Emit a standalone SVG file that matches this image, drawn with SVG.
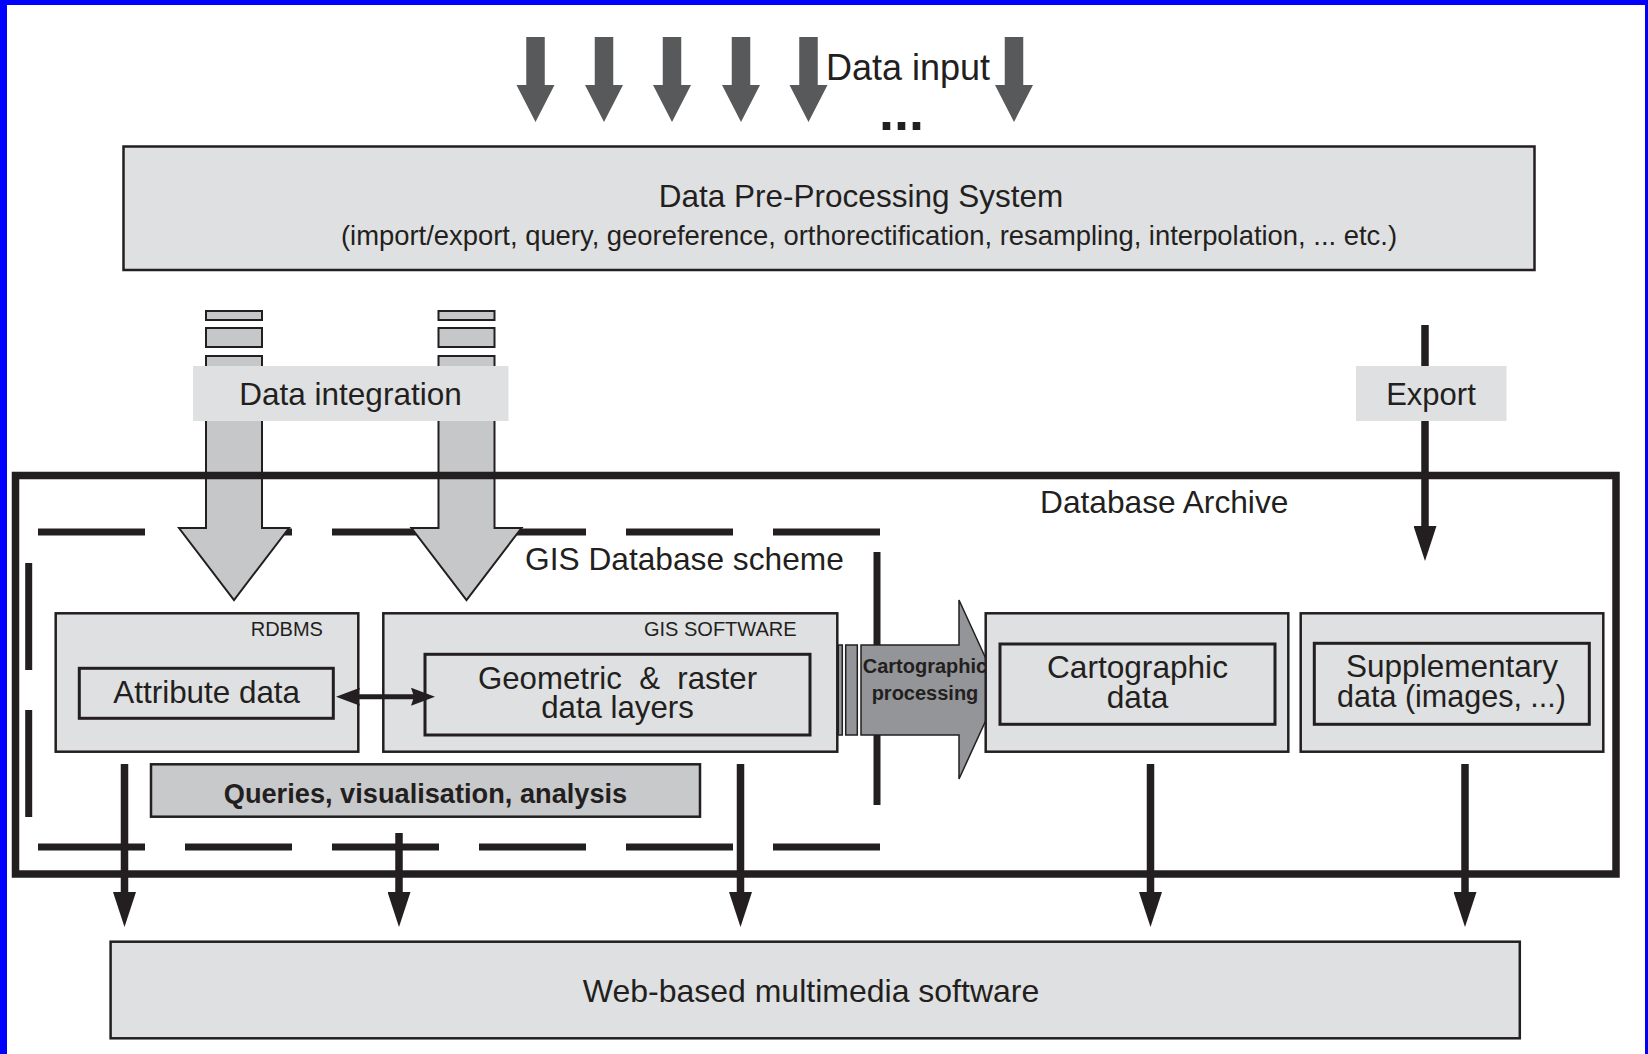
<svg xmlns="http://www.w3.org/2000/svg" xmlns:xlink="http://www.w3.org/1999/xlink" width="1648" height="1054" viewBox="0 0 1648 1054">
<style>
  text { font-family: "Liberation Sans", Arial, sans-serif; fill: #231f20; }
  .box { fill: #dfe0e1; stroke: #231f20; stroke-width: 2.5; }
  .inner { fill: #dfe0e1; stroke: #231f20; stroke-width: 3; }
  .label { fill: #dfe0e1; stroke: none; }
  .thick { fill: none; stroke: #231f20; stroke-width: 7.5; }
  .dash { fill: none; stroke: #231f20; stroke-width: 7; stroke-dasharray: 107 40; }
  .conn { fill: none; stroke: #231f20; stroke-width: 7.5; marker-end: url(#ah); }
  .input { fill: #58595b; }
  .integ { fill: #c6c7c9; stroke: #231f20; stroke-width: 2; }
  .carto { fill: #939598; stroke: #231f20; stroke-width: 1.5; }
  .bold { font-weight: bold; }
  .mid { text-anchor: middle; }
</style>
<defs>
  <marker id="ah" markerUnits="userSpaceOnUse" markerWidth="35" markerHeight="23" viewBox="0 0 35 23" refX="1" refY="11.5" orient="auto">
    <path d="M0,0 L35,11.5 L0,23 Z" fill="#231f20"/>
  </marker>
  <marker id="dh" markerUnits="userSpaceOnUse" markerWidth="24" markerHeight="18" viewBox="0 0 24 18" refX="3" refY="9" orient="auto-start-reverse">
    <path d="M0,0 L24,9 L0,18 L3,9 Z" fill="#231f20"/>
  </marker>
  <path id="inArrow" d="M-9.25,37 H9.25 V85 H19 L0,122 L-19,85 H-9.25 Z"/>
  <g id="intArrow">
    <rect x="-28" y="311" width="56" height="9"/>
    <rect x="-28" y="328" width="56" height="19"/>
    <path d="M-28,356 H28 V528 H55 L0,600 L-55,528 H-28 Z"/>
  </g>
</defs>

<rect x="0" y="0" width="1648" height="1054" fill="#ffffff"/>
<g id="frame">
  <rect x="0" y="0" width="1648" height="5" fill="#0000ff"/>
  <rect x="0" y="0" width="7" height="1054" fill="#0000ff"/>
  <rect x="1645" y="0" width="3" height="1054" fill="#0000ff"/>
</g>

<g id="data-input">
  <text x="826" y="80" font-size="36">Data input</text>
  <text x="879" y="130" font-size="54" class="bold">...</text>
</g>

<g id="pre-processing">
  <rect class="box" x="123.5" y="146.5" width="1411" height="123.5"/>
  <text class="mid" x="861" y="207" font-size="31.5">Data Pre-Processing System</text>
  <text class="mid" x="869" y="245" font-size="27.4">(import/export, query, georeference, orthorectification, resampling, interpolation, ... etc.)</text>
</g>

<g id="gis-database-scheme">
  <path class="dash" d="M38,532 H880"/>
  <path class="dash" d="M38,847 H880"/>
  <path class="dash" d="M28.7,563 V817"/>
  <path d="M877,552 V805" fill="none" stroke="#231f20" stroke-width="7"/>
  <text x="525" y="570" font-size="31.7">GIS Database scheme</text>
</g>

<g id="rdbms">
  <rect class="box" x="55.7" y="613.3" width="302.6" height="138.4"/>
  <text x="250.7" y="636" font-size="20">RDBMS</text>
  <rect class="inner" x="79.3" y="668.3" width="254" height="50"/>
  <text class="mid" x="206.7" y="703" font-size="31.4">Attribute data</text>
</g>

<g id="gis-software">
  <rect class="box" x="383.3" y="613.3" width="454" height="138.4"/>
  <text x="644" y="636" font-size="20">GIS SOFTWARE</text>
  <rect class="inner" x="425" y="654.3" width="385" height="80.7"/>
  <text class="mid" x="617.5" y="689" font-size="31.2" style="white-space:pre" xml:space="preserve">Geometric  &amp;  raster</text>
  <text class="mid" x="617.5" y="718" font-size="31.2">data layers</text>
</g>

<g id="queries">
  <rect x="151" y="764.3" width="549" height="52.4" fill="#c8c9cb" stroke="#231f20" stroke-width="2.5"/>
  <text class="mid bold" x="425.5" y="803" font-size="27.2">Queries, visualisation, analysis</text>
</g>

<g id="cartographic-processing">
  <rect class="carto" x="838.3" y="645" width="4" height="90"/>
  <rect class="carto" x="845.7" y="645" width="11.6" height="90"/>
  <path class="carto" d="M861,645 H959 V600 L1000,689.5 L959,779 V735 H861 Z"/>
  <text class="mid bold" x="925" y="673" font-size="20">Cartographic</text>
  <text class="mid bold" x="925" y="700" font-size="20">processing</text>
</g>

<g id="cartographic-data">
  <rect class="box" x="985.7" y="613.3" width="302.6" height="138.4"/>
  <rect class="inner" x="1000" y="644" width="275" height="80.3"/>
  <text class="mid" x="1137.5" y="678" font-size="31.6">Cartographic</text>
  <text class="mid" x="1137.5" y="708" font-size="31.6">data</text>
</g>

<g id="supplementary-data">
  <rect class="box" x="1300.7" y="613.3" width="302.6" height="138.4"/>
  <rect class="inner" x="1314.3" y="643.3" width="275" height="81"/>
  <text class="mid" x="1452" y="677" font-size="31.5">Supplementary</text>
  <text class="mid" x="1451.5" y="707" font-size="30.5">data (images, ...)</text>
</g>

<g id="web-multimedia">
  <rect class="box" x="110.6" y="941.7" width="1409.2" height="96.6"/>
  <text class="mid" x="811" y="1002" font-size="32">Web-based multimedia software</text>
</g>

<g id="connectors">
  <use href="#inArrow" xlink:href="#inArrow" class="input" x="535.5"/>
  <use href="#inArrow" xlink:href="#inArrow" class="input" x="604"/>
  <use href="#inArrow" xlink:href="#inArrow" class="input" x="672"/>
  <use href="#inArrow" xlink:href="#inArrow" class="input" x="741"/>
  <use href="#inArrow" xlink:href="#inArrow" class="input" x="808.5"/>
  <use href="#inArrow" xlink:href="#inArrow" class="input" x="1014"/>
  <use href="#intArrow" xlink:href="#intArrow" class="integ" x="234"/>
  <use href="#intArrow" xlink:href="#intArrow" class="integ" x="466.5"/>
  <path class="conn" d="M1425,325 V527"/>
  <path d="M357,696.7 H414" fill="none" stroke="#231f20" stroke-width="5" marker-start="url(#dh)" marker-end="url(#dh)"/>
  <path class="conn" d="M124.5,764 V893"/>
  <path class="conn" d="M399,833 V893"/>
  <path class="conn" d="M740.5,764 V893"/>
  <path class="conn" d="M1150.5,764 V893"/>
  <path class="conn" d="M1465,764 V893"/>
</g>

<g id="database-archive">
  <rect class="thick" x="15.5" y="475.5" width="1600.5" height="398.5"/>
  <text x="1040" y="513" font-size="31.7">Database Archive</text>
</g>

<g id="data-integration">
  <rect class="label" x="193" y="366" width="315.5" height="55"/>
  <text class="mid" x="350.5" y="405" font-size="31.5">Data integration</text>
</g>

<g id="export">
  <rect class="label" x="1356" y="366" width="150.5" height="55"/>
  <text class="mid" x="1431" y="405" font-size="31">Export</text>
</g>
</svg>
